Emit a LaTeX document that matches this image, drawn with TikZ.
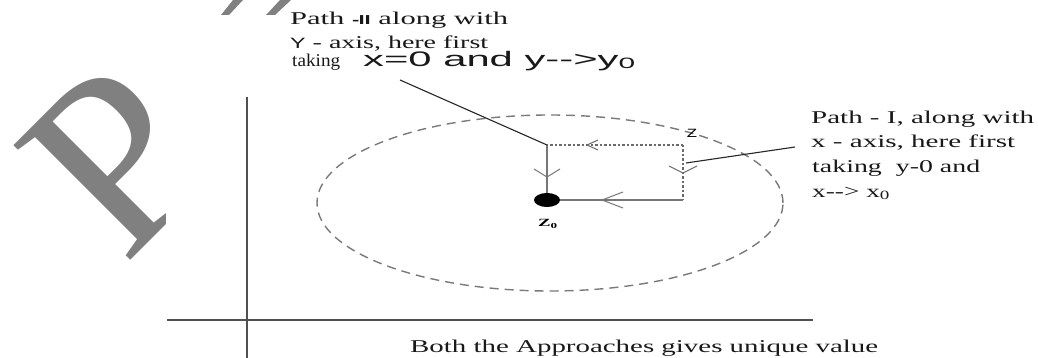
\documentclass[tikz,border=0pt]{standalone}
\usepackage{fontspec}
\setmainfont{Liberation Serif}
\setsansfont{Liberation Sans}
\usetikzlibrary{calc,shapes.geometric}
\definecolor{wm}{HTML}{808080}
\definecolor{axisgray}{HTML}{505050}
\definecolor{circgray}{HTML}{7A7A7A}
\definecolor{dotgray}{HTML}{6A6A6A}
\definecolor{solgray}{HTML}{777777}
\newsavebox\fitbox
\newcommand{\fitw}[2]{\sbox\fitbox{#2}\pgfmathsetmacro\fitsx{#1/\the\wd\fitbox}\scalebox{\fitsx}[1]{\usebox\fitbox}}
\tikzset{
  lbl/.style={anchor=base west, inner sep=0pt, font=\fontsize{18}{20}\selectfont, text=black!90},
  axisline/.style={line width=1.7pt, draw=axisgray},
  dotline/.style={line width=1.1pt, draw=dotgray, dash pattern=on 2.5pt off 2pt},
  solidv/.style={line width=2.4pt, draw=solgray},
  solidh/.style={line width=1.1pt, draw=solgray},
  leader/.style={line width=1.1pt, draw=black!85},
  headsolid/.style={line width=1pt, draw=solgray},
  headdot/.style={line width=1pt, draw=dotgray},
}
\begin{document}
\begin{tikzpicture}[x=1pt,y=-1pt]
\useasboundingbox (0,0) rectangle (1038,358);
% watermark
\node[anchor=base west, inner sep=0pt, rotate=45, text=wm, font=\fontsize{250}{250}\selectfont] (wmP) at (124,267) {P};
\fill[wm] (221,15) -- (229,15) -- (243,0) -- (233,0) -- cycle;
\fill[wm] (266,15) -- (275,15) -- (291,0) -- (280,0) -- cycle;
\fill[white] (166,15) rectangle (1038,358);
% axes
\coordinate (yb) at (247,358);
\coordinate (yt) at (247,97);
\coordinate (xl) at (167,320);
\coordinate (xr) at (813,320);
\draw[axisline] (yb) -- (yt);
\draw[axisline] (xl) -- (xr);
% dashed circle
\node[draw=circgray, line width=1.4pt, dash pattern=on 9pt off 6pt, ellipse, minimum width=466pt, minimum height=176pt, inner sep=0pt] (circ) at (550,203) {};
% paths
\coordinate (p) at (547,145);
\coordinate (z) at (683,145);
\coordinate (q) at (683,200);
\coordinate (zc) at (547,200);
\draw[solidv] (p) -- (zc);
\draw[dotline] (z) -- (p);
\draw[dotline] (z) -- (q);
\draw[solidh] (q) -- (zc);
\node[fill=black, ellipse, minimum width=26pt, minimum height=14pt, inner sep=0pt] (z0) at (zc) {};
% arrowheads
\draw[headsolid] ($(p)+(-13,24)$) -- ($(p)+(0,32)$) -- ($(p)+(13,24)$);
\draw[headdot] ($(z)+(-14,21)$) -- ($(z)+(0,28)$) -- ($(z)+(14,21)$);
\draw[headdot] ($(p)+(51,-5)$) -- ($(p)+(40,0)$) -- ($(p)+(51,5)$);
\draw[headsolid] ($(zc)+(76,-8)$) -- ($(zc)+(55,0)$) -- ($(zc)+(76,8)$);
% leaders
\coordinate (l1) at (400,80);
\draw[leader] (l1) -- (p);
\coordinate (l2s) at (686,163);
\coordinate (l2e) at (795,147);
\draw[leader] (l2s) -- (l2e);
% point labels
\node[inner sep=0pt, font=\sffamily\fontsize{12}{12}\selectfont] (zl) at (692,133) {\scalebox{1.4}[1]{Z}};
\node[inner sep=0pt, font=\fontsize{11}{11}\selectfont] (z0l) at (548,224) {\scalebox{1.7}[1]{\bfseries Z\textsubscript{0}}};
% top-left text
\node[lbl] (t1) at (290,25) {\fitw{218}{Path {\sffamily\bfseries\fontsize{13}{13}\selectfont -\kern-0.5pt II} along with}};
\node[lbl] (t2) at (290,49) {\fitw{198}{{\sffamily\fontsize{15}{15}\selectfont Y} - axis, here first}};
\node[lbl] (t3a) at (292,67) {\fitw{48}{taking}};
\node[lbl, font=\sffamily\fontsize{21}{21}\selectfont] (t3b) at (363,67) {\fitw{272}{x=0 and y-\kern0pt-\kern0pt>y\raisebox{-2pt}{\fontsize{15}{15}\selectfont 0}}};
% right text
\node[lbl] (r1) at (811,124) {\fitw{223}{Path - I, along with}};
\node[lbl] (r2) at (811,148) {\fitw{204}{x - axis, here first}};
\node[lbl] (r3) at (812,173) {\fitw{168}{taking\ \ y-0 and}};
\node[lbl] (r4) at (812,197) {\fitw{78}{x-\kern0pt-\kern0pt> x\textsubscript{0}}};
% bottom text
\node[lbl] (b1) at (410,352) {\fitw{468}{Both the Approaches gives unique value}};
\end{tikzpicture}
\end{document}
